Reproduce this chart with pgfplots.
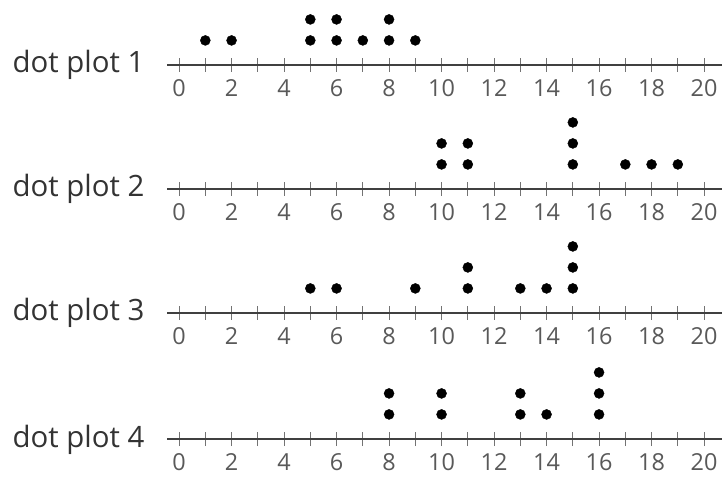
\documentclass[border=0pt]{standalone}
\usepackage{pgfplots}
\pgfplotsset{compat=1.18}
\usepackage{fontspec}
\setmainfont{Open Sans}
\pgfplotsset{
  dotline/.style={
    x=26.25bp, y=21bp,
    anchor=south west,
    xmin=-0.46, xmax=20.69, ymin=-0.17, ymax=3.5,
    axis x line*=bottom, axis y line=none,
    clip=false,
    xtick={0,2,...,20}, minor xtick={1,3,...,19}, ytick=\empty,
    tick align=center,
    major tick length=14bp, minor tick length=14bp,
    every tick/.style={black!55, line width=1bp},
    every minor tick/.style={black!55, line width=1bp},
    axis line style={black!75, line width=2bp},
    /pgf/number format/assume math mode=true,
    xticklabel style={font=\fontsize{23.5}{23.5}\selectfont, text=black!65, yshift=-4bp},
  },
  dots/.style={only marks, mark=*, mark size=5bp, black},
}
\tikzset{
  lab/.style={anchor=base east, font=\fontsize{29.5}{29.5}\selectfont, text=black!80, xshift=-19bp, yshift=-8bp},
}
\begin{document}
\begin{tikzpicture}
\path[use as bounding box] (0,0) rectangle (722bp,477bp);
\begin{axis}[dotline, at={(167bp,412bp)}]
\addplot[dots] coordinates {(1,1)(2,1)(5,1)(5,2)(6,1)(6,2)(7,1)(8,1)(8,2)(9,1)};
\node[lab] at (axis cs:-0.46,-0.17) {dot plot 1};
\end{axis}
\begin{axis}[dotline, at={(167bp,288bp)}]
\addplot[dots] coordinates {(10,1)(10,2)(11,1)(11,2)(15,1)(15,2)(15,3)(17,1)(18,1)(19,1)};
\node[lab] at (axis cs:-0.46,-0.17) {dot plot 2};
\end{axis}
\begin{axis}[dotline, at={(167bp,164bp)}]
\addplot[dots] coordinates {(5,1)(6,1)(9,1)(11,1)(11,2)(13,1)(14,1)(15,1)(15,2)(15,3)};
\node[lab] at (axis cs:-0.46,-0.17) {dot plot 3};
\end{axis}
\begin{axis}[dotline, at={(167bp,38bp)}]
\addplot[dots] coordinates {(8,1)(8,2)(10,1)(10,2)(13,1)(13,2)(14,1)(16,1)(16,2)(16,3)};
\node[lab] at (axis cs:-0.46,-0.17) {dot plot 4};
\end{axis}
\end{tikzpicture}
\end{document}
